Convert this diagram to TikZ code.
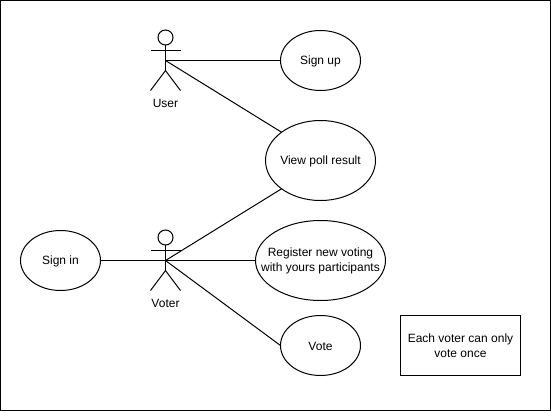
\documentclass[tikz,border=0pt]{standalone}
\usepackage{fontspec}
\setmainfont{Liberation Sans}
\usetikzlibrary{shapes.geometric}
\tikzset{
  usecase/.style={draw=black,ellipse,line width=0.75pt,inner sep=0pt,outer sep=0pt},
  centretext/.style={label={[inner sep=0pt,yshift=-0.6pt,align=center,font=\fontsize{9}{11.25}\selectfont]center:#1}},
  notebox/.style={draw=black,rectangle,line width=0.75pt,inner sep=0pt,outer sep=0pt,align=center,font=\fontsize{9}{11.25}\selectfont},
  actorlabel/.style={inner sep=0pt,font=\fontsize{9}{11.25}\selectfont},
  link/.style={line width=0.75pt,draw=black},
  stick/.style={line width=0.75pt,draw=black},
  actorhead/.style={draw=black,circle,line width=0.75pt,inner sep=0pt,outer sep=0pt,minimum size=11.25pt},
}
\begin{document}
\begin{tikzpicture}[x=0.75pt,y=-0.75pt]
\useasboundingbox (0,0) rectangle (551,411);
\draw[line width=0.75pt] (0.5,0.5) rectangle (550.5,410.5);

% User actor
\node[actorhead] (userhead) at (165.5,37.5) {};
\coordinate (userhip) at (165.5,70.5);
\coordinate (usercentre) at (165.5,60.5);
\coordinate (userarml) at (150.5,50.5);
\coordinate (userarmr) at (180.5,50.5);
\coordinate (userlegl) at (150.5,90.5);
\coordinate (userlegr) at (180.5,90.5);
\draw[stick] (userhead.south) -- (userhip);
\draw[stick] (userarml) -- (userarmr);
\draw[stick] (userlegl) -- (userhip) -- (userlegr);
\node[actorlabel] (userlabel) at (165.5,103.5) {User};

% Voter actor
\node[actorhead] (voterhead) at (165.5,237.5) {};
\coordinate (voterhip) at (165.5,270.5);
\coordinate (votercentre) at (165.5,260.5);
\coordinate (voterarml) at (150.5,250.5);
\coordinate (voterarmr) at (180.5,250.5);
\coordinate (voterlegl) at (150.5,290.5);
\coordinate (voterlegr) at (180.5,290.5);
\draw[stick] (voterhead.south) -- (voterhip);
\draw[stick] (voterarml) -- (voterarmr);
\draw[stick] (voterlegl) -- (voterhip) -- (voterlegr);
\node[actorlabel] (voterlabel) at (165.5,303.5) {Voter};

% Use cases
\node[usecase,minimum width=60pt,minimum height=45pt,centretext={Sign up}] (signup) at (320.5,60.5) {};
\node[usecase,minimum width=82.5pt,minimum height=60pt,centretext={View poll result}] (view) at (320.5,160.5) {};
\node[usecase,minimum width=97.5pt,minimum height=60pt,centretext={Register new voting\\with yours participants}] (register) at (320.5,260.5) {};
\node[usecase,minimum width=60pt,minimum height=45pt,centretext={Vote}] (vote) at (320.5,345.5) {};
\node[usecase,minimum width=60pt,minimum height=45pt,centretext={Sign in}] (signin) at (60.5,260.5) {};
\node[notebox,minimum width=90pt,minimum height=45pt] (note) at (460.5,345.5) {Each voter can only\\vote once};

% Connectors
\draw[link] (usercentre) -- (signup.west);
\draw[link] (usercentre) -- (view.144);
\draw[link] (votercentre) -- (view.216);
\draw[link] (votercentre) -- (register.west);
\draw[link] (votercentre) -- (vote.west);
\draw[link] (signin.east) -- (votercentre);
\end{tikzpicture}
\end{document}
